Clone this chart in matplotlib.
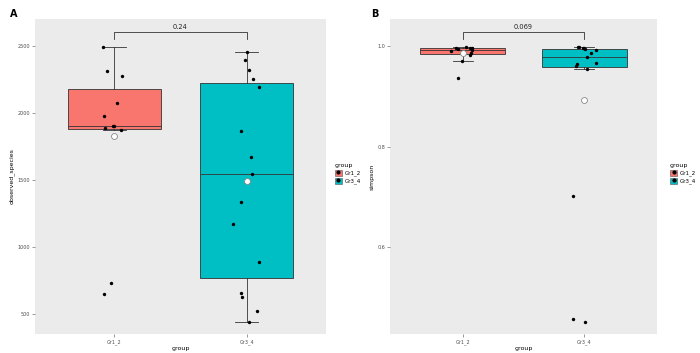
import numpy as np
import matplotlib
matplotlib.use("Agg")
import matplotlib.pyplot as plt
from matplotlib.patches import Patch
from matplotlib.lines import Line2D

# groups and colours
groups = ["Gr1_2", "Gr3_4"]
colors = ["#F8766D", "#00BFC4"]

# observed_species per sample
obs_g12 = [2493, 2313, 2276, 2075, 1978, 1903, 1903, 1888, 1873, 649, 731]
obs_g34 = [2455, 2396, 2321, 2254, 2194, 1866, 1672, 1545, 1336, 1172,
           889, 657, 627, 523, 441]

# simpson per sample
simp_g12 = [0.998, 0.997, 0.996, 0.996, 0.995, 0.992, 0.990, 0.987,
            0.982, 0.970, 0.936]
simp_g34 = [0.998, 0.998, 0.997, 0.996, 0.994, 0.992, 0.986, 0.978,
            0.966, 0.964, 0.960, 0.955, 0.701, 0.457, 0.451]

p_obs = "0.24"
p_simp = "0.069"

obs_ticks = [500, 1000, 1500, 2000, 2500]
simp_ticks = [0.6, 0.8, 1.0]

W, H = 700, 353
fig = plt.figure(figsize=(W / 100, H / 100), dpi=100)
fig.patch.set_facecolor("white")


def px_axes(x0, y0, x1, y1):
    return fig.add_axes([x0 / W, 1 - y1 / H, (x1 - x0) / W, (y1 - y0) / H])


def panel(ax, data, ylim, ticks, ylabel, ptxt, bracket_y, tick_len, seed):
    ax.set_facecolor("#EBEBEB")
    for s in ax.spines.values():
        s.set_visible(False)
    bp = ax.boxplot(data, positions=[1, 2], widths=0.7, patch_artist=True,
                    showfliers=False, whis=1.5, capwidths=0.17)
    for patch, c in zip(bp["boxes"], colors):
        patch.set_facecolor(c)
        patch.set_edgecolor("#333333")
        patch.set_linewidth(0.6)
    for ln in bp["medians"]:
        ln.set_color("#333333")
        ln.set_linewidth(0.6)
    for ln in bp["whiskers"] + bp["caps"]:
        ln.set_color("#333333")
        ln.set_linewidth(0.6)

    rng = np.random.default_rng(seed)
    for i, vals in enumerate(data):
        xs = (i + 1) + rng.uniform(-0.1, 0.1, len(vals))
        ax.scatter(xs, vals, s=6, color="black", zorder=3, linewidths=0)
        ax.scatter([i + 1], [np.mean(vals)], s=18, facecolor="white",
                   edgecolor="#888888", linewidths=0.6, zorder=4)

    # significance bracket
    ax.plot([1, 1, 2, 2], [bracket_y - tick_len, bracket_y, bracket_y,
                           bracket_y - tick_len],
            color="#333333", lw=0.6, clip_on=False)
    ax.text(1.5, bracket_y + tick_len * 0.3, ptxt, ha="center", va="bottom",
            fontsize=4.8, color="#222222")

    ax.set_xlim(0.4, 2.6)
    ax.set_ylim(*ylim)
    ax.set_xticks([1, 2])
    ax.set_xticklabels(groups)
    ax.set_yticks(ticks)
    ax.tick_params(labelsize=3.5, colors="#4D4D4D", length=2, width=0.4,
                   pad=1.5)
    ax.set_xlabel("group", fontsize=4.5, labelpad=1)
    ax.set_ylabel(ylabel, fontsize=4.5, labelpad=2)


axA = px_axes(35, 19, 326, 334)
panel(axA, [obs_g12, obs_g34], (352, 2701), obs_ticks, "observed_species",
      p_obs, 2604, 52, 3)

axB = px_axes(390, 19, 657, 334)
panel(axB, [simp_g12, simp_g34], (0.427, 1.054), simp_ticks, "simpson",
      p_simp, 1.028, 0.014, 7)
axB.set_yticklabels(["0.6", "0.8", "1.0"])

fig.text(10 / W, 1 - 14 / H, "A", fontsize=7, fontweight="bold", va="center")
fig.text(371 / W, 1 - 14 / H, "B", fontsize=7, fontweight="bold", va="center")

handles = [(Patch(facecolor=c, edgecolor="#555555", linewidth=0.4),
            Line2D([], [], marker="o", color="black", ls="", markersize=2))
           for c in colors]
for x0 in (331, 666):
    leg = fig.legend(handles, groups, title="group", loc="upper left",
                     bbox_to_anchor=(x0 / W, 1 - 159 / H), frameon=False,
                     fontsize=4, title_fontsize=4.5, handlelength=1.3,
                     handleheight=1.3, handletextpad=0.5, labelspacing=0.3,
                     borderpad=0.2)
    leg._legend_box.align = "left"

fig.savefig("out.png", dpi=100)
